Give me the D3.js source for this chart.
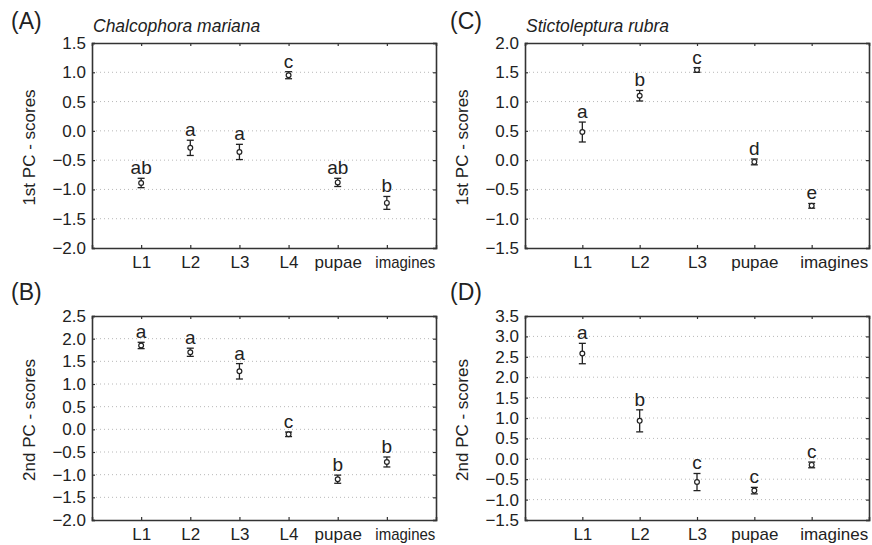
<!DOCTYPE html>
<html>
<head>
<meta charset="utf-8">
<script src="https://cdn.jsdelivr.net/npm/d3@7"></script>
<style>
  body { margin: 0; background: #fff; }
  text { font-family: "Liberation Sans", Arial, sans-serif; fill: #222; }
</style>
</head>
<body>
<svg id="fig" width="872" height="545"></svg>
<script>
// panel A - Chalcophora mariana, 1st PC
const catsA = ["L1", "L2", "L3", "L4", "pupae", "imagines"];
const meanA = [-0.89, -0.29, -0.36, 0.95, -0.88, -1.23];
const errA = [0.08, 0.13, 0.13, 0.06, 0.07, 0.11];
const lettersA = ["ab", "a", "a", "c", "ab", "b"];
const yTicksA = [-2.0, -1.5, -1.0, -0.5, 0.0, 0.5, 1.0, 1.5];

// panel B - Chalcophora mariana, 2nd PC
const catsB = ["L1", "L2", "L3", "L4", "pupae", "imagines"];
const meanB = [1.85, 1.70, 1.28, -0.11, -1.10, -0.72];
const errB = [0.07, 0.09, 0.17, 0.05, 0.09, 0.11];
const lettersB = ["a", "a", "a", "c", "b", "b"];
const yTicksB = [-2.0, -1.5, -1.0, -0.5, 0.0, 0.5, 1.0, 1.5, 2.0, 2.5];

// panel C - Stictoleptura rubra, 1st PC
const catsC = ["L1", "L2", "L3", "pupae", "imagines"];
const meanC = [0.48, 1.10, 1.54, -0.03, -0.78];
const errC = [0.17, 0.09, 0.04, 0.05, 0.04];
const lettersC = ["a", "b", "c", "d", "e"];
const yTicksC = [-1.5, -1.0, -0.5, 0.0, 0.5, 1.0, 1.5, 2.0];

// panel D - Stictoleptura rubra, 2nd PC
const catsD = ["L1", "L2", "L3", "pupae", "imagines"];
const meanD = [2.58, 0.93, -0.57, -0.78, -0.15];
const errD = [0.25, 0.27, 0.21, 0.08, 0.07];
const lettersD = ["a", "b", "c", "c", "c"];
const yTicksD = [-1.5, -1.0, -0.5, 0.0, 0.5, 1.0, 1.5, 2.0, 2.5, 3.0, 3.5];

const svg = d3.select("#fig");
const fmt = d => d3.format(".1f")(d).replace("-", "\u2212");

const panels = [
  {label: "(A)", title: "Chalcophora mariana", ytitle: "1st PC - scores",
   cats: catsA, mean: meanA, err: errA, letters: lettersA, ticks: yTicksA,
   x0: 92, x1: 436, y0: 43, y1: 248, lx: 11, ly: 29, squeeze: 60},
  {label: "(B)", title: "", ytitle: "2nd PC - scores",
   cats: catsB, mean: meanB, err: errB, letters: lettersB, ticks: yTicksB,
   x0: 92, x1: 436, y0: 316, y1: 520, lx: 11, ly: 300, squeeze: 60},
  {label: "(C)", title: "Stictoleptura rubra", ytitle: "1st PC - scores",
   cats: catsC, mean: meanC, err: errC, letters: lettersC, ticks: yTicksC,
   x0: 525, x1: 869, y0: 43, y1: 248, lx: 450, ly: 29, squeeze: 0},
  {label: "(D)", title: "", ytitle: "2nd PC - scores",
   cats: catsD, mean: meanD, err: errD, letters: lettersD, ticks: yTicksD,
   x0: 525, x1: 869, y0: 316, y1: 520, lx: 450, ly: 300, squeeze: 0}
];

panels.forEach(p => drawPanel(p));

function drawPanel(p) {
  const x = d3.scalePoint().domain(p.cats).range([p.x0, p.x1]).padding(1);
  const y = d3.scaleLinear()
      .domain([p.ticks[0], p.ticks[p.ticks.length - 1]])
      .range([p.y1, p.y0]);
  const g = svg.append("g");

  // dotted gridlines
  g.append("g")
    .selectAll("line")
    .data(p.ticks.slice(1, -1))
    .join("line")
      .attr("x1", p.x0).attr("x2", p.x1)
      .attr("y1", d => y(d)).attr("y2", d => y(d))
      .attr("stroke", "#b8b8b8")
      .attr("stroke-width", 1)
      .attr("stroke-dasharray", "1,3");

  // frame with inner ticks on all four sides
  const left = g.append("g").attr("transform", `translate(${p.x0},0)`)
    .call(d3.axisLeft(y).tickValues(p.ticks).tickFormat(fmt).tickSize(-3).tickPadding(6));
  const right = g.append("g").attr("transform", `translate(${p.x1},0)`)
    .call(d3.axisRight(y).tickValues(p.ticks).tickFormat("").tickSize(-3));
  const bottom = g.append("g").attr("transform", `translate(0,${p.y1})`)
    .call(d3.axisBottom(x).tickSize(-3).tickPadding(5));
  const top = g.append("g").attr("transform", `translate(0,${p.y0})`)
    .call(d3.axisTop(x).tickFormat("").tickSize(-3));

  [left, right, bottom, top].forEach(a => {
    a.select(".domain").attr("stroke", "#333").attr("stroke-width", 1.6);
    a.selectAll(".tick line").attr("stroke", "#333").attr("stroke-width", 1.2);
    a.selectAll("text").attr("font-size", 17).attr("fill", "#222")
      .attr("font-family", "'Liberation Sans', Arial, sans-serif");
  });
  left.selectAll(".tick text").attr("x", -6);
  bottom.selectAll(".tick text").attr("dy", "0.9em");

  // the long last label is pushed right (and squeezed in the left panels)
  const last = bottom.selectAll(".tick text").filter(d => d === p.cats[p.cats.length - 1]);
  last.attr("text-anchor", "start").attr("x", -12);
  if (p.squeeze) last.attr("textLength", p.squeeze).attr("lengthAdjust", "spacingAndGlyphs");

  const data = p.cats.map((c, i) => ({cat: c, m: p.mean[i], e: p.err[i], l: p.letters[i]}));
  const pts = g.append("g").selectAll("g").data(data).join("g");

  pts.append("line")
    .attr("x1", d => x(d.cat)).attr("x2", d => x(d.cat))
    .attr("y1", d => y(d.m - d.e)).attr("y2", d => y(d.m + d.e))
    .attr("stroke", "#222").attr("stroke-width", 1.3);
  pts.append("line")
    .attr("x1", d => x(d.cat) - 3.5).attr("x2", d => x(d.cat) + 3.5)
    .attr("y1", d => y(d.m + d.e)).attr("y2", d => y(d.m + d.e))
    .attr("stroke", "#222").attr("stroke-width", 1.3);
  pts.append("line")
    .attr("x1", d => x(d.cat) - 3.5).attr("x2", d => x(d.cat) + 3.5)
    .attr("y1", d => y(d.m - d.e)).attr("y2", d => y(d.m - d.e))
    .attr("stroke", "#222").attr("stroke-width", 1.3);
  pts.append("circle")
    .attr("cx", d => x(d.cat)).attr("cy", d => y(d.m))
    .attr("r", 2.4)
    .attr("fill", "#fff").attr("stroke", "#222").attr("stroke-width", 1.2);
  pts.append("text")
    .attr("x", d => x(d.cat))
    .attr("y", d => y(d.m + d.e) - 4)
    .attr("text-anchor", "middle")
    .attr("font-size", 19)
    .text(d => d.l);

  // panel label, title, y-axis title
  g.append("text")
    .attr("x", p.lx).attr("y", p.ly)
    .attr("font-size", 23)
    .text(p.label);
  if (p.title) {
    g.append("text")
      .attr("x", p.x0 + 1).attr("y", 32)
      .attr("font-size", 17.5).attr("font-style", "italic")
      .text(p.title);
  }
  g.append("text")
    .attr("transform", `translate(${p.x0 - 57},${(p.y0 + p.y1) / 2 + 2}) rotate(-90)`)
    .attr("text-anchor", "middle")
    .attr("font-size", 17)
    .text(p.ytitle);
}
</script>
</body>
</html>
